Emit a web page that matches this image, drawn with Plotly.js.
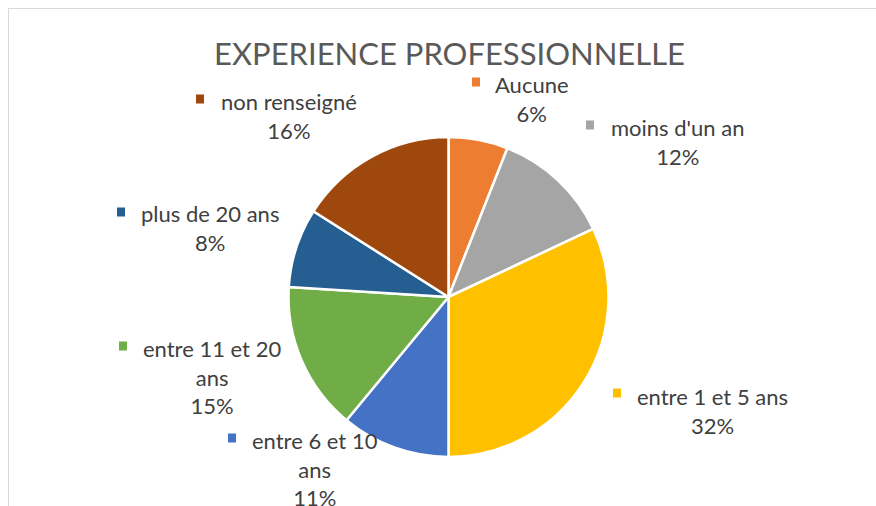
<!DOCTYPE html>
<html>
<head>
<meta charset="utf-8">
<script src="https://cdn.plot.ly/plotly-3.0.1.min.js"></script>
<style>
  html, body { margin: 0; padding: 0; background: #fff; }
  #wrap { position: relative; width: 876px; height: 506px; overflow: hidden; }
  #frame { position: absolute; left: 8px; top: 8px; width: 900px; height: 520px;
           border-left: 1.5px solid #d9d9d9; border-top: 1.5px solid #d9d9d9; box-sizing: border-box; }
  #chart { position: absolute; left: 0; top: 0; width: 876px; height: 506px; }
</style>
</head>
<body>
<div id="wrap">
  <div id="frame"></div>
  <div id="chart"></div>
</div>
<script>
// ---- data ----
const categories = ["Aucune", "moins d'un an", "entre 1 et 5 ans", "entre 6 et 10 ans",
                    "entre 11 et 20 ans", "plus de 20 ans", "non renseigné"];
const values = [6, 12, 32, 11, 15, 8, 16];
const colors = ["#ED7D31", "#A5A5A5", "#FFC000", "#4472C4", "#70AD47", "#255E91", "#9E480E"];
const titleText = "EXPERIENCE PROFESSIONNELLE";

// ---- label layout (pixel positions of label centre, text left edge, and line break) ----
const W = 876, H = 506;
const labelLayout = [
  {cx: 531.5, cy: 99,    left: 496, firstY: 84,  brk: null},
  {cx: 677.5, cy: 142,   left: 610, firstY: 127, brk: null},
  {cx: 712,   cy: 410.5, left: 637, firstY: 395, brk: null},
  {cx: 314.5, cy: 468.5, left: 252, firstY: 440, brk: "entre 6 et 10"},
  {cx: 211.5, cy: 377,   left: 143, firstY: 348, brk: "entre 11 et 20"},
  {cx: 209.5, cy: 228.5, left: 141, firstY: 214, brk: null},
  {cx: 288.5, cy: 116,   left: 220, firstY: 101, brk: null}
];

const px = x => x / W;
const py = y => 1 - y / H;

const cx0 = 448.5, cy0 = 297, R = 160;

const trace = {
  type: 'pie',
  labels: categories,
  values: values,
  sort: false,
  direction: 'clockwise',
  rotation: 0,
  textinfo: 'none',
  hoverinfo: 'label+percent',
  marker: { colors: colors, line: { color: '#ffffff', width: 2.5 } },
  domain: { x: [px(cx0 - R), px(cx0 + R)], y: [py(cy0 + R), py(cy0 - R)] },
  showlegend: false
};

const annotations = [];
const shapes = [];
categories.forEach((c, i) => {
  const L = labelLayout[i];
  let name = c;
  if (L.brk && c.startsWith(L.brk)) name = L.brk + '<br>' + c.slice(L.brk.length).trim();
  annotations.push({
    xref: 'paper', yref: 'paper', x: px(L.cx), y: py(L.cy),
    xanchor: 'center', yanchor: 'middle', align: 'center', showarrow: false,
    text: name + '<br>' + values[i] + '%',
    font: { family: 'Lato, Calibri, sans-serif', size: 22, color: '#404040' }
  });
  const sx = L.left - 24, sy = L.firstY - 2;
  shapes.push({
    type: 'rect', xref: 'paper', yref: 'paper',
    x0: px(sx), x1: px(sx + 8), y0: py(sy + 4.5), y1: py(sy - 4.5),
    fillcolor: colors[i], line: { width: 0 }
  });
});

const layout = {
  width: W, height: H,
  margin: { l: 0, r: 0, t: 0, b: 0 },
  paper_bgcolor: 'rgba(0,0,0,0)',
  plot_bgcolor: 'rgba(0,0,0,0)',
  title: {
    text: titleText,
    font: { family: 'Lato, Calibri, sans-serif', size: 31, color: '#595959' },
    x: px(449.5), xanchor: 'center', y: py(54), yanchor: 'middle'
  },
  annotations: annotations,
  shapes: shapes
};

Plotly.newPlot('chart', [trace], layout, { displayModeBar: false, staticPlot: true });
</script>
</body>
</html>
